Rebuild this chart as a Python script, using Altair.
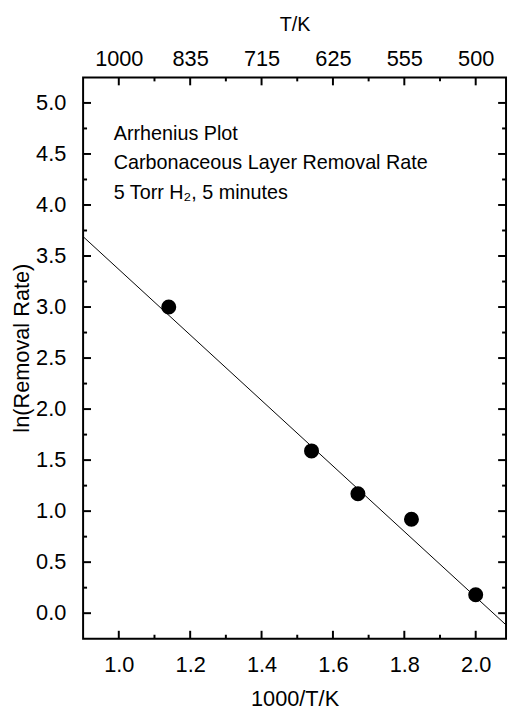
import altair as alt
import pandas as pd

# data
inv_T = [1.14, 1.54, 1.67, 1.82, 2.0]
ln_rate = [3.0, 1.59, 1.17, 0.92, 0.18]
fit_x = [0.9, 2.085]
fit_y = [3.69, -0.115]

x_major = [1.0, 1.2, 1.4, 1.6, 1.8, 2.0]
x_minor = [1.1, 1.3, 1.5, 1.7, 1.9]
y_major = [0.0, 0.5, 1.0, 1.5, 2.0, 2.5, 3.0, 3.5, 4.0, 4.5, 5.0]
y_minor = [0.25, 0.75, 1.25, 1.75, 2.25, 2.75, 3.25, 3.75, 4.25, 4.75]
top_labels = ["1000", "835", "715", "625", "555", "500"]
notes = ["Arrhenius Plot", "Carbonaceous Layer Removal Rate", "5 Torr H\u2082, 5 minutes"]
y_title = "ln(Removal Rate)"

W, H = 428, 568
FONT = "Liberation Sans"
XD = [0.9, 2.085]
YD = [-0.25, 5.25]

xs = alt.Scale(domain=XD, nice=False, zero=False)
ys = alt.Scale(domain=YD, nice=False, zero=False)

pts = pd.DataFrame({"x": inv_T, "y": ln_rate})
fit = pd.DataFrame({"x": fit_x, "y": fit_y})

label_expr = "[" + ",".join(f"'{t}'" for t in top_labels) + "][round(datum.value*5)-5]"

bottom_axis = alt.Axis(orient="bottom", values=x_major, format=".1f", ticks=False, domain=False,
                       grid=False, labelFontSize=22, labelFont=FONT, labelColor="black",
                       labelPadding=16, title="1000/T/K", titleFont=FONT, titleFontSize=22,
                       titleFontWeight="normal", titleColor="black", titlePadding=14)
top_axis = alt.Axis(orient="top", values=x_major, labelExpr=label_expr, ticks=False, domain=False,
                    grid=False, labelFontSize=22, labelFont=FONT, labelColor="black",
                    labelPadding=7, title="T/K", titleFont=FONT, titleFontSize=20,
                    titleFontWeight="normal", titleColor="black", titlePadding=13)

line = alt.Chart(fit).mark_line(color="black", strokeWidth=1, clip=True).encode(
    x=alt.X("x:Q", scale=xs, axis=bottom_axis),
    y=alt.Y("y:Q", scale=ys, axis=None),
)

top_layer = alt.Chart(fit).mark_point(opacity=0).encode(
    x=alt.X("x:Q", scale=xs, axis=top_axis),
    y=alt.Y("y:Q", scale=ys, axis=None),
)

dots = alt.Chart(pts).mark_circle(color="black", opacity=1, size=230).encode(
    x=alt.X("x:Q", scale=xs, axis=None),
    y=alt.Y("y:Q", scale=ys, axis=None),
)

# y tick labels and title as text drawn through the y scale
ylab_df = pd.DataFrame({"v": y_major, "lab": [f"{v:.1f}" for v in y_major]})
ylabels = alt.Chart(ylab_df).mark_text(
    align="right", baseline="middle", font=FONT, fontSize=22, color="black"
).encode(y=alt.Y("v:Q", scale=ys, axis=None), x=alt.value(-17), text="lab:N")

ytitle = alt.Chart(pd.DataFrame({"t": [y_title]})).mark_text(
    angle=270, align="center", baseline="middle", font=FONT, fontSize=22, color="black"
).encode(text="t:N", x=alt.value(-62), y=alt.value(H / 2 - 10))


def xt(vals, length, top):
    df = pd.DataFrame({"v": vals})
    if top:
        yy, yy2 = alt.value(0), alt.value(length)
    else:
        yy, yy2 = alt.value(H - length), alt.value(H)
    return alt.Chart(df).mark_rule(color="black", strokeWidth=2).encode(
        x=alt.X("v:Q", scale=xs, axis=None), y=yy, y2=yy2)


def yt(vals, length, left):
    df = pd.DataFrame({"v": vals})
    if left:
        xx, xx2 = alt.value(0), alt.value(length)
    else:
        xx, xx2 = alt.value(W - length), alt.value(W)
    return alt.Chart(df).mark_rule(color="black", strokeWidth=2).encode(
        y=alt.Y("v:Q", scale=ys, axis=None), x=xx, x2=xx2)


ticks = [xt(x_major, 8, True), xt(x_minor, 4, True), xt(x_major, 8, False), xt(x_minor, 4, False),
         yt(y_major, 8, True), yt(y_minor, 4, True), yt(y_major, 8, False), yt(y_minor, 4, False)]

note_layers = []
for i, t in enumerate(notes):
    note_layers.append(
        alt.Chart(pd.DataFrame({"t": [t]})).mark_text(
            align="left", baseline="alphabetic", font=FONT, fontSize=20, color="black"
        ).encode(text="t:N", x=alt.value(31), y=alt.value(63 + 30 * i))
    )

chart = alt.layer(line, top_layer, dots, *ticks, ylabels, ytitle, *note_layers).resolve_axis(
    x="independent"
).properties(
    width=W, height=H,
    background="white",
    autosize=alt.AutoSizeParams(type="none"),
    padding={"left": 76, "top": 66, "right": 3, "bottom": 76},
).configure_view(stroke="black", strokeWidth=2)

chart.save("out.html", embed_options={"renderer": "svg", "actions": False})
